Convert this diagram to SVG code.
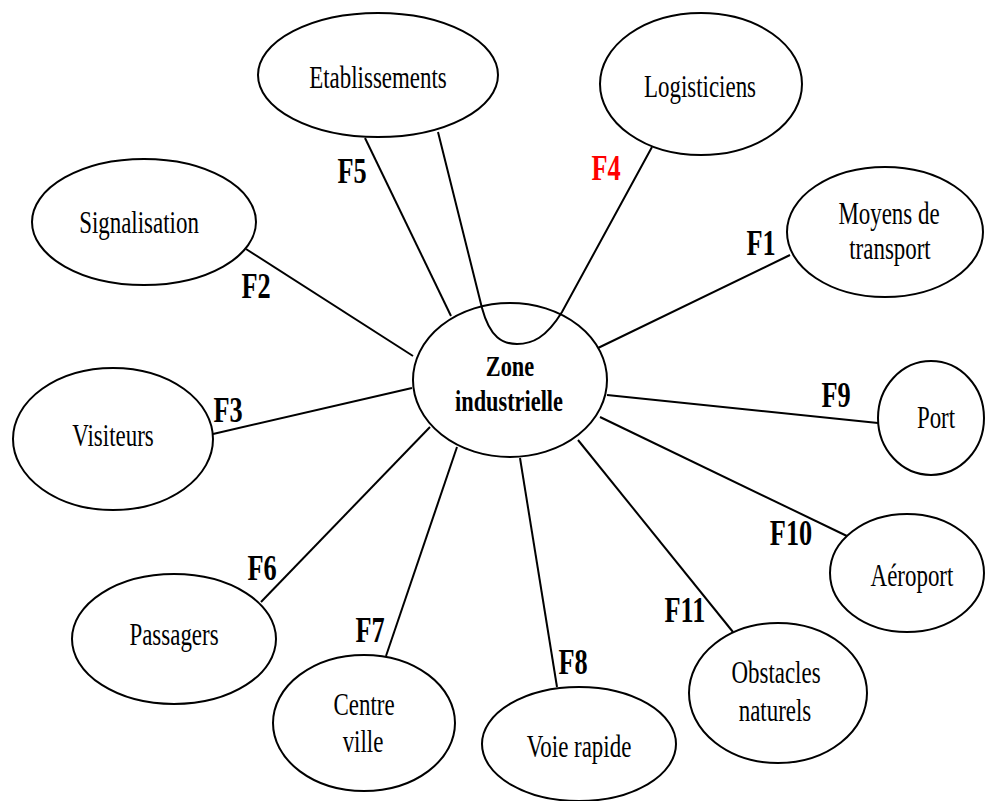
<svg xmlns="http://www.w3.org/2000/svg" width="985" height="801" viewBox="0 0 985 801">
<style>
.n{fill:#fff;stroke:#000;stroke-width:2}
.c{fill:none;stroke:#000;stroke-width:2}
.t{font-family:"Liberation Serif","Times New Roman",serif;font-size:31px;fill:#000;text-anchor:middle}
.b{font-family:"Liberation Serif","Times New Roman",serif;font-size:30px;font-weight:bold;fill:#000;text-anchor:middle}
.f{font-family:"Liberation Serif","Times New Roman",serif;font-size:36px;font-weight:bold;fill:#000;text-anchor:middle}
</style>
<rect width="985" height="801" fill="#fff"/>
<g id="connectors">
<line class="c" x1="365" y1="138" x2="451" y2="316"/>
<path class="c" d="M438,132 L482,308 C490,338 503,344 517,344 C532,344 546,338 562,312 L652,147"/>
<line class="c" x1="246" y1="249" x2="413" y2="356"/>
<line class="c" x1="213" y1="434" x2="412" y2="388"/>
<line class="c" x1="598" y1="348" x2="790" y2="255"/>
<line class="c" x1="607" y1="395" x2="878" y2="423"/>
<line class="c" x1="600" y1="417" x2="849" y2="537"/>
<line class="c" x1="578" y1="440" x2="733" y2="632"/>
<line class="c" x1="520" y1="458" x2="557" y2="687"/>
<line class="c" x1="457" y1="447" x2="386" y2="656"/>
<line class="c" x1="430" y1="427" x2="261" y2="602"/>
</g>
<g id="labels">
<text class="f" transform="translate(761,255) scale(0.73,1)">F1</text>
<text class="f" transform="translate(256,298) scale(0.73,1)">F2</text>
<text class="f" transform="translate(228,422) scale(0.73,1)">F3</text>
<text class="f" transform="translate(606,180) scale(0.73,1)" style="fill:#ff0000">F4</text>
<text class="f" transform="translate(352,183) scale(0.73,1)">F5</text>
<text class="f" transform="translate(262,580) scale(0.73,1)">F6</text>
<text class="f" transform="translate(370,642) scale(0.73,1)">F7</text>
<text class="f" transform="translate(573,674) scale(0.73,1)">F8</text>
<text class="f" transform="translate(836,407) scale(0.73,1)">F9</text>
<text class="f" transform="translate(791,545) scale(0.73,1)">F10</text>
<text class="f" transform="translate(685,622) scale(0.73,1)">F11</text>
</g>
<g id="etablissements">
<ellipse class="n" cx="378" cy="75" rx="120" ry="62"/>
<text class="t" transform="translate(378,88) scale(0.74,1)">Etablissements</text>
</g>
<g id="logisticiens">
<ellipse class="n" cx="701" cy="84" rx="101" ry="71"/>
<text class="t" transform="translate(700,97) scale(0.74,1)">Logisticiens</text>
</g>
<g id="signalisation">
<ellipse class="n" cx="144" cy="222" rx="112" ry="63"/>
<text class="t" transform="translate(139,233) scale(0.74,1)">Signalisation</text>
</g>
<g id="visiteurs">
<ellipse class="n" cx="113" cy="439" rx="100" ry="71"/>
<text class="t" transform="translate(113,446) scale(0.74,1)">Visiteurs</text>
</g>
<g id="zone">
<ellipse class="n" cx="510" cy="380" rx="97" ry="77" style="fill:none"/>
<text class="b" transform="translate(510,376) scale(0.745,1)">Zone</text>
<text class="b" transform="translate(509,411) scale(0.745,1)">industrielle</text>
</g>
<g id="moyens">
<ellipse class="n" cx="885" cy="232" rx="98" ry="65"/>
<text class="t" transform="translate(889,224) scale(0.74,1)">Moyens de</text>
<text class="t" transform="translate(890,259) scale(0.74,1)">transport</text>
</g>
<g id="port">
<ellipse class="n" cx="931" cy="418" rx="53" ry="57"/>
<text class="t" transform="translate(936,428) scale(0.74,1)">Port</text>
</g>
<g id="aeroport">
<ellipse class="n" cx="907" cy="573" rx="77" ry="59"/>
<text class="t" transform="translate(912,586) scale(0.74,1)">Aéroport</text>
</g>
<g id="passagers">
<ellipse class="n" cx="174" cy="639" rx="102" ry="65"/>
<text class="t" transform="translate(174,645) scale(0.74,1)">Passagers</text>
</g>
<g id="centre">
<ellipse class="n" cx="364" cy="723" rx="91" ry="68"/>
<text class="t" transform="translate(364,715) scale(0.74,1)">Centre</text>
<text class="t" transform="translate(363,752) scale(0.74,1)">ville</text>
</g>
<g id="voie">
<ellipse class="n" cx="579" cy="744" rx="97" ry="57"/>
<text class="t" transform="translate(579,757) scale(0.74,1)">Voie rapide</text>
</g>
<g id="obstacles">
<ellipse class="n" cx="778" cy="693" rx="89" ry="70"/>
<text class="t" transform="translate(776,683) scale(0.74,1)">Obstacles</text>
<text class="t" transform="translate(775,721) scale(0.74,1)">naturels</text>
</g>
</svg>
